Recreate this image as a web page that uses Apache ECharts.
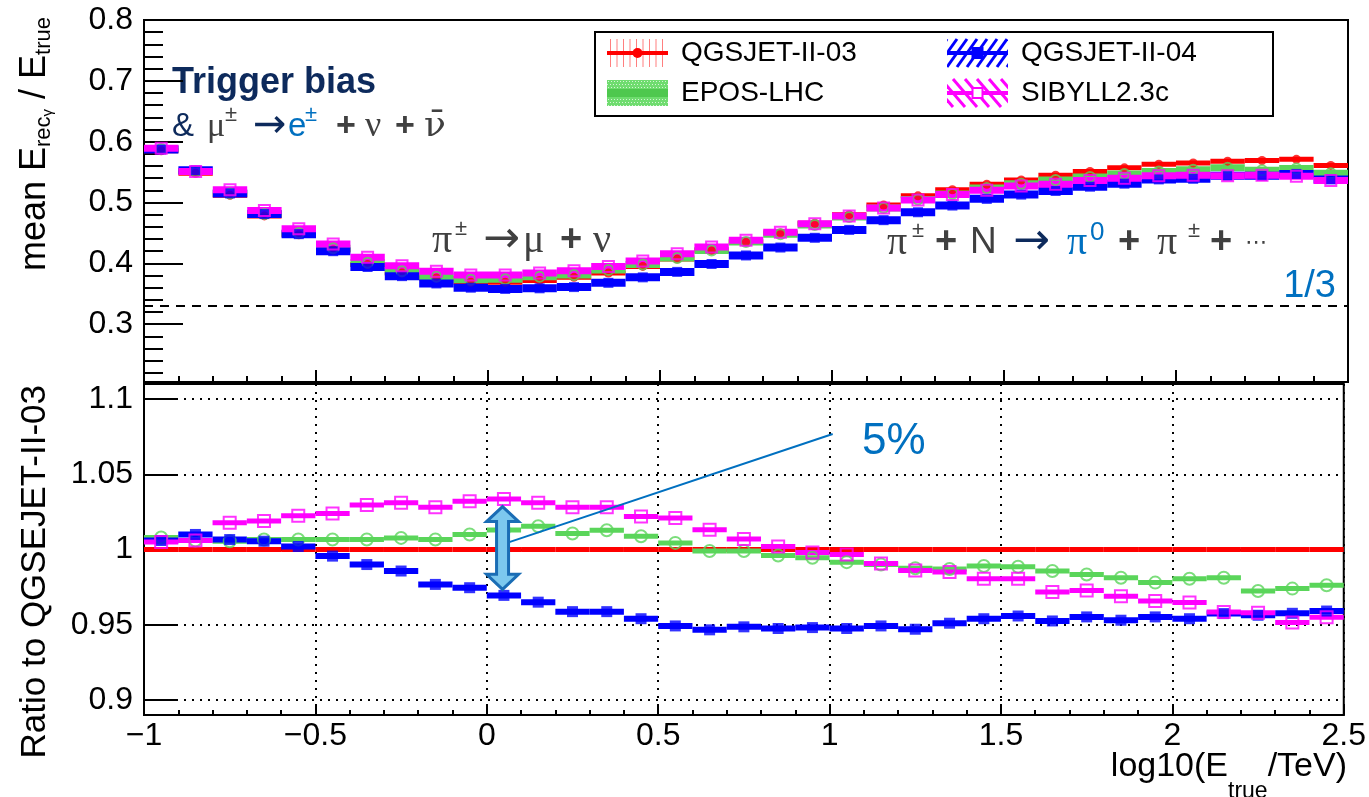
<!DOCTYPE html>
<html>
<head>
<meta charset="utf-8">
<script src="https://cdn.jsdelivr.net/npm/echarts@6/dist/echarts.min.js"></script>
<style>html,body{margin:0;padding:0;background:#fff}#c{width:1369px;height:797px}</style>
</head>
<body>
<div id="c"></div>
<script>
// ---------------- data ----------------
const binCenters = [-0.95,-0.85,-0.75,-0.65,-0.55,-0.45,-0.35,-0.25,-0.15,-0.05,
  0.05,0.15,0.25,0.35,0.45,0.55,0.65,0.75,0.85,0.95,
  1.05,1.15,1.25,1.35,1.45,1.55,1.65,1.75,1.85,1.95,
  2.05,2.15,2.25,2.35,2.45];
const binHalfWidth = 0.05;

const meanQGSJET03 = [0.585,0.548,0.512,0.478,0.447,0.422,0.398,0.384,0.376,0.369,
  0.369,0.372,0.377,0.384,0.395,0.407,0.421,0.435,0.450,0.466,
  0.480,0.496,0.511,0.521,0.530,0.537,0.545,0.551,0.557,0.563,
  0.565,0.568,0.569,0.571,0.561];
const meanEPOS = [0.588,0.551,0.515,0.481,0.450,0.425,0.401,0.387,0.378,0.373,
  0.374,0.378,0.381,0.389,0.398,0.409,0.421,0.435,0.448,0.463,
  0.476,0.491,0.505,0.514,0.524,0.531,0.537,0.542,0.547,0.551,
  0.554,0.557,0.553,0.556,0.548];
const meanQGSJET04 = [0.587,0.553,0.515,0.481,0.448,0.420,0.394,0.379,0.367,0.360,
  0.358,0.359,0.361,0.368,0.377,0.386,0.399,0.413,0.426,0.442,
  0.455,0.471,0.484,0.495,0.506,0.513,0.519,0.526,0.531,0.538,
  0.539,0.544,0.544,0.547,0.538];
const meanSIBYLL = [0.589,0.551,0.521,0.487,0.457,0.432,0.410,0.396,0.387,0.381,
  0.381,0.384,0.388,0.395,0.404,0.416,0.427,0.438,0.451,0.465,
  0.478,0.491,0.504,0.513,0.520,0.527,0.530,0.536,0.540,0.544,
  0.545,0.544,0.545,0.543,0.536];

const ratioQGSJET03 = [1,1,1,1,1,1,1,1,1,1,1,1,1,1,1,1,1,1,1,1,1,1,1,1,1,1,1,1,1,1,1,1,1,1,1];
const ratioEPOS = [1.008,1.006,1.0055,1.0066,1.0066,1.0066,1.0066,1.0077,1.0066,1.010,
  1.013,1.0155,1.0106,1.0128,1.0088,1.0044,0.999,0.999,0.996,0.9945,
  0.9916,0.990,0.9875,0.987,0.989,0.9885,0.9857,0.9834,0.9812,0.978,
  0.9806,0.9812,0.9724,0.974,0.9762];
const ratioQGSJET04 = [1.006,1.010,1.0066,1.0055,1.002,0.9956,0.990,0.9857,0.9768,0.9746,
  0.9695,0.965,0.9587,0.9587,0.954,0.9492,0.9466,0.9486,0.9475,0.9481,
  0.9475,0.9492,0.947,0.951,0.954,0.9558,0.9525,0.9552,0.953,0.9552,
  0.954,0.9574,0.9563,0.9576,0.9591];
const ratioSIBYLL = [1.005,1.006,1.0177,1.019,1.0225,1.024,1.0295,1.031,1.028,1.032,
  1.0335,1.031,1.028,1.028,1.022,1.021,1.0132,1.007,1.002,0.998,
  0.9967,0.9907,0.986,0.985,0.9806,0.9806,0.9717,0.9728,0.969,0.9658,
  0.9647,0.9585,0.958,0.9515,0.955];

const oneThird = 1 / 3;
const topYTicks = [0.3,0.4,0.5,0.6,0.7,0.8];
const topYMinorTicks = [0.22,0.24,0.26,0.28,0.32,0.34,0.36,0.38,0.42,0.44,0.46,0.48,
  0.52,0.54,0.56,0.58,0.62,0.64,0.66,0.68,0.72,0.74,0.76,0.78];
const ratioYTicks = [0.9,0.95,1,1.05,1.1];

// annotation anchors (data coordinates of the ratio panel)
const arrowX = 0.046, arrowTop = 1.0285, arrowBottom = 0.9735;
const leaderFrom = [0.035, 1.0026], leaderTo = [1.009, 1.0768];

// ---------------- styles ----------------
const C_RED = '#ff0000', C_GREEN = '#5ad55a', C_BLUE = '#0000ff', C_MAG = '#ff00ff';
const NAVY = '#0d2a5c', GRAY = '#404040', LBLUE = '#0070c0';
const SANS = '"Liberation Sans", Arial, Helvetica, sans-serif';
const SERIF = '"Liberation Serif", "DejaVu Serif", serif';
const DJ = '"DejaVu Sans", sans-serif';

function pairs(vals) { return binCenters.map((c, i) => [c, vals[i]]); }

function binBars(thick) {
  return function (params, api) {
    const x = api.value(0), y = api.value(1);
    const a = api.coord([x - binHalfWidth, y]);
    const b = api.coord([x + binHalfWidth, y]);
    const cs = params.coordSys;
    const shape = echarts.graphic.clipRectByRect(
      { x: a[0], y: a[1] - thick / 2, width: b[0] - a[0], height: thick },
      { x: cs.x, y: cs.y, width: cs.width, height: cs.height });
    return shape ? { type: 'rect', shape: shape, style: { fill: api.visual('color') } } : null;
  };
}

function barSeries(name, vals, color, thick, xi, yi, extra) {
  return Object.assign({
    type: 'custom', name: name, xAxisIndex: xi, yAxisIndex: yi,
    data: pairs(vals), itemStyle: { color: color }, renderItem: binBars(thick),
    silent: true, encode: { x: 0, y: 1 }
  }, extra || {});
}
function markerSeries(name, vals, color, symbol, size, filled, xi, yi) {
  return {
    type: 'scatter', name: name, xAxisIndex: xi, yAxisIndex: yi, data: pairs(vals),
    symbol: symbol, symbolSize: size, silent: true,
    itemStyle: filled ? { color: color } : { color: 'rgba(0,0,0,0)', borderColor: color, borderWidth: 2 }
  };
}

// ---------------- legend icons ----------------
function makeIcon(kind) {
  const W = 69, H = 30, w = 61;
  const cv = document.createElement('canvas'); cv.width = W; cv.height = H;
  const g = cv.getContext('2d');
  g.save(); g.beginPath(); g.rect(0, 0, w, H); g.clip();
  if (kind === 'red') {
    g.strokeStyle = 'rgba(255,0,0,0.5)'; g.lineWidth = 1;
    for (let x = 3; x < w; x += 6.5) { g.beginPath(); g.moveTo(x + 0.5, 1); g.lineTo(x + 0.5, H - 1); g.stroke(); }
    g.fillStyle = C_RED; g.fillRect(0, 13, w, 4);
    g.beginPath(); g.arc(w / 2, 15, 5, 0, Math.PI * 2); g.fill();
  } else if (kind === 'green') {
    g.fillStyle = '#6fdc6f'; g.fillRect(0, 2, w, H - 4);
    g.fillStyle = 'rgba(255,255,255,0.7)';
    for (let y = 3; y < H - 2; y += 3) for (let x = (y % 2); x < w; x += 3) g.fillRect(x, y, 1, 1);
    g.fillStyle = '#4ec84e'; g.fillRect(0, 11, w, 8);
  } else if (kind === 'blue') {
    g.strokeStyle = C_BLUE; g.lineWidth = 3;
    for (let x = -30; x < w + 30; x += 10) { g.beginPath(); g.moveTo(x, H - 1); g.lineTo(x + 20, 1); g.stroke(); }
    g.fillStyle = C_BLUE; g.fillRect(0, 13, w, 4); g.fillRect(w / 2 - 6, 9, 12, 12);
  } else {
    g.strokeStyle = C_MAG; g.lineWidth = 3;
    for (let x = -30; x < w + 30; x += 12) { g.beginPath(); g.moveTo(x, 1); g.lineTo(x + 24, H - 1); g.stroke(); }
    g.fillStyle = C_MAG; g.fillRect(0, 13, w, 4);
    g.fillStyle = '#fff'; g.fillRect(w / 2 - 5, 10, 10, 10);
    g.strokeStyle = C_MAG; g.lineWidth = 2; g.strokeRect(w / 2 - 5, 10, 10, 10);
  }
  g.restore();
  return 'image://' + cv.toDataURL();
}

// ---------------- chart ----------------
const chart = echarts.init(document.getElementById('c'), null, { renderer: 'canvas' });

const axisLineBlack = { show: true, onZero: false, lineStyle: { color: '#000', width: 2 } };
const tickFont = { fontSize: 32, color: '#000', fontFamily: SANS };
const dotted = { show: true, lineStyle: { color: '#000', width: 2, type: [2, 6] } };

const option = {
  animation: false,
  backgroundColor: '#fff',
  textStyle: { fontFamily: SANS },
  grid: [
    { left: 144, right: 21, top: 20, height: 362, show: true, borderColor: '#000', borderWidth: 2 },
    { left: 144, right: 21, top: 384, height: 331, show: true, borderColor: '#000', borderWidth: 2 }
  ],
  xAxis: [
    { type: 'value', gridIndex: 0, min: -1, max: 2.5, interval: 0.5,
      axisLine: axisLineBlack, axisLabel: { show: false },
      axisTick: { show: true, inside: true, length: 12, lineStyle: { color: '#000', width: 2 } },
      minorTick: { show: true, splitNumber: 5, length: 6, lineStyle: { color: '#000', width: 2 } },
      splitLine: { show: false } },
    { type: 'value', gridIndex: 1, min: -1, max: 2.5, interval: 0.5,
      axisLine: axisLineBlack,
      axisLabel: Object.assign({ margin: 5, formatter: v => String(v).replace('-', '\u2212') }, tickFont),
      axisTick: { show: true, inside: true, length: 10, lineStyle: { color: '#000', width: 2 } },
      minorTick: { show: true, splitNumber: 5, length: 5, lineStyle: { color: '#000', width: 2 } },
      splitLine: dotted }
  ],
  yAxis: [
    { type: 'value', gridIndex: 0, position: 'left', min: 0.205, max: 0.8,
      axisLine: axisLineBlack,
      axisLabel: Object.assign({ margin: 11, customValues: topYTicks }, tickFont),
      axisTick: { show: true, inside: true, length: 39, customValues: topYTicks, lineStyle: { color: '#000', width: 2 } },
      splitLine: { show: false } },
    { type: 'value', gridIndex: 0, position: 'left', offset: 0, min: 0.205, max: 0.8,
      axisLine: { show: false, onZero: false }, axisLabel: { show: false },
      axisTick: { show: true, inside: true, length: 19, customValues: topYMinorTicks, lineStyle: { color: '#000', width: 2 } },
      splitLine: { show: false } },
    { type: 'value', gridIndex: 1, position: 'left', min: 0.89, max: 1.11,
      axisLine: axisLineBlack,
      axisLabel: Object.assign({ margin: 11, customValues: ratioYTicks }, tickFont),
      axisTick: { show: true, inside: true, length: 33, customValues: ratioYTicks, lineStyle: { color: '#000', width: 2 } },
      splitLine: dotted }
  ],
  legend: [
    { left: 607, top: 38, orient: 'vertical', itemWidth: 69, itemHeight: 30, itemGap: 10, padding: 0,
      selectedMode: false, textStyle: { fontSize: 28, color: '#000', fontFamily: SANS },
      data: [{ name: 'QGSJET-II-03', icon: makeIcon('red') }, { name: 'EPOS-LHC', icon: makeIcon('green') }] },
    { left: 947, top: 38, orient: 'vertical', itemWidth: 69, itemHeight: 30, itemGap: 10, padding: 0,
      selectedMode: false, textStyle: { fontSize: 28, color: '#000', fontFamily: SANS },
      data: [{ name: 'QGSJET-II-04', icon: makeIcon('blue') }, { name: 'SIBYLL2.3c', icon: makeIcon('magenta') }] }
  ],
  series: [
    barSeries('QGSJET-II-03', meanQGSJET03, C_RED, 5, 0, 0, {
      markLine: { silent: true, symbol: ['none', 'none'], label: { show: false },
        lineStyle: { color: '#000', width: 2, type: [9, 7] }, data: [{ yAxis: oneThird }] } }),
    markerSeries('QGSJET-II-03', meanQGSJET03, C_RED, 'circle', 9, true, 0, 0),
    barSeries('EPOS-LHC', meanEPOS, C_GREEN, 7, 0, 0),
    markerSeries('EPOS-LHC', meanEPOS, C_GREEN, 'circle', 10, false, 0, 0),
    barSeries('QGSJET-II-04', meanQGSJET04, C_BLUE, 8, 0, 0),
    markerSeries('QGSJET-II-04', meanQGSJET04, C_BLUE, 'rect', 10, true, 0, 0),
    barSeries('SIBYLL2.3c', meanSIBYLL, C_MAG, 7, 0, 0),
    markerSeries('SIBYLL2.3c', meanSIBYLL, C_MAG, 'rect', 11, false, 0, 0),

    barSeries('QGSJET-II-03', ratioQGSJET03, C_RED, 5, 1, 2),
    barSeries('EPOS-LHC', ratioEPOS, C_GREEN, 5, 1, 2),
    markerSeries('EPOS-LHC', ratioEPOS, C_GREEN, 'circle', 12, false, 1, 2),
    barSeries('QGSJET-II-04', ratioQGSJET04, C_BLUE, 6, 1, 2),
    markerSeries('QGSJET-II-04', ratioQGSJET04, C_BLUE, 'rect', 11, true, 1, 2),
    barSeries('SIBYLL2.3c', ratioSIBYLL, C_MAG, 5, 1, 2),
    markerSeries('SIBYLL2.3c', ratioSIBYLL, C_MAG, 'rect', 12, false, 1, 2)
  ]
};
chart.setOption(option);

// ---------------- annotations ----------------
const px = p => chart.convertToPixel({ gridIndex: 1 }, p);
const aTop = px([arrowX, arrowTop]), aBot = px([arrowX, arrowBottom]);
const cx = aTop[0], ty = aTop[1], by = aBot[1];
const lf = px(leaderFrom), lt = px(leaderTo);

// rich token style helper: fixed-width box for each piece of the formulas
function tk(size, color, family, width, extra) {
  return Object.assign({ fontSize: size, lineHeight: 46, fill: color, fontFamily: family, width: width }, extra || {});
}
function sup(size, color, width) {
  return { fontSize: size, lineHeight: 22, verticalAlign: 'top', fill: color, fontFamily: SANS, width: width };
}

chart.setOption({
  graphic: [
    { type: 'rect', z: 1, shape: { x: 595, y: 32, width: 678, height: 84 },
      style: { fill: 'none', stroke: '#000', lineWidth: 2 } },
    // axis titles
    { type: 'text', x: 35, y: 17, rotation: Math.PI / 2,
      style: { text: '{m|mean E}{s|rec}{ss|\u03b3}{m| / E}{s|true}', align: 'right', verticalAlign: 'middle',
        rich: {
          m: { fontSize: 36, lineHeight: 40, fill: '#000', fontFamily: SANS },
          s: { fontSize: 22, lineHeight: 22, verticalAlign: 'bottom', fill: '#000', fontFamily: SANS },
          ss: { fontSize: 15, lineHeight: 15, verticalAlign: 'bottom', fill: '#000', fontFamily: SANS }
        } } },
    { type: 'text', x: 35, y: 385, rotation: Math.PI / 2,
      style: { text: 'Ratio to QGSEJET-II-03', align: 'right', verticalAlign: 'middle',
        font: '35px ' + SANS, fill: '#000' } },
    { type: 'text', x: 1347, y: 767,
      style: { text: '{m|log10(E}{s|true}{m|/TeV)}', align: 'right', verticalAlign: 'middle',
        rich: {
          m: { fontSize: 34, lineHeight: 72, fill: '#000', fontFamily: SANS },
          s: { fontSize: 23, lineHeight: 23, verticalAlign: 'bottom', fill: '#000', fontFamily: SANS }
        } } },
    // physics annotations
    { type: 'text', x: 172, y: 83,
      style: { text: 'Trigger bias', font: 'bold 36px ' + SANS, fill: NAVY, verticalAlign: 'middle' } },
    { type: 'text', x: 172, y: 127,
      style: { text: '{a|&}{g|\u03bc}{s|\u00b1}{r|\u2192}{b|e}{bs|\u00b1}{p|+}{g2|\u03bd}{p|+}{nb|\u03bd\u0304}',
        verticalAlign: 'middle',
        rich: {
          a: tk(33, NAVY, SANS, 35),
          g: tk(34, GRAY, SERIF, 18),
          s: sup(22, GRAY, 28),
          r: tk(40, NAVY, DJ, 35),
          b: tk(33, LBLUE, SANS, 17),
          bs: sup(22, LBLUE, 31),
          p: tk(34, GRAY, SANS, 29, { fontWeight: 'bold' }),
          g2: tk(36, GRAY, SERIF, 30),
          nb: tk(36, GRAY, '"DejaVu Serif", serif', 30)
        } } },
    { type: 'text', x: 432, y: 241,
      style: { text: '{g|\u03c0}{s|\u00b1}{r|\u2192}{g2|\u03bc}{p|+}{g2|\u03bd}', verticalAlign: 'middle',
        rich: {
          g: tk(40, GRAY, SERIF, 23),
          s: sup(22, GRAY, 28),
          r: tk(44, GRAY, DJ, 40),
          g2: tk(40, GRAY, SERIF, 37),
          p: tk(38, GRAY, SANS, 33, { fontWeight: 'bold' })
        } } },
    { type: 'text', x: 887, y: 243,
      style: { text: '{g|\u03c0}{s|\u00b1}{p|+}{n|N}{r|\u2192}{bg|\u03c0}{bs|0}{p2|+}{g3|\u03c0}{s2|\u00b1}{p|+}{d|\u22ef}',
        verticalAlign: 'middle',
        rich: {
          g: tk(40, GRAY, SERIF, 25),
          s: sup(22, GRAY, 23),
          p: tk(38, GRAY, SANS, 35, { fontWeight: 'bold' }),
          n: tk(37, GRAY, SANS, 43),
          r: tk(44, NAVY, DJ, 54),
          bg: tk(40, LBLUE, SERIF, 23),
          bs: sup(26, LBLUE, 28),
          p2: tk(38, GRAY, SANS, 39, { fontWeight: 'bold' }),
          g3: tk(40, GRAY, SERIF, 31),
          s2: sup(22, GRAY, 22),
          d: tk(22, GRAY, DJ, 30)
        } } },
    { type: 'text', x: 1336, y: 287,
      style: { text: '1/3', font: '38px ' + SANS, fill: LBLUE, align: 'right', verticalAlign: 'middle' } },
    { type: 'text', x: 862, y: 442,
      style: { text: '5%', font: '44px ' + SANS, fill: LBLUE, verticalAlign: 'middle' } },
    { type: 'line', z: 10, shape: { x1: lf[0], y1: lf[1], x2: lt[0], y2: lt[1] },
      style: { stroke: LBLUE, lineWidth: 2 } },
    { type: 'polygon', z: 11,
      shape: { points: [[cx, ty], [cx + 16, ty + 15], [cx + 6, ty + 15], [cx + 6, by - 15], [cx + 16, by - 15],
        [cx, by], [cx - 16, by - 15], [cx - 6, by - 15], [cx - 6, ty + 15], [cx - 16, ty + 15]] },
      style: { fill: '#7cc8ee', stroke: '#1a6db5', lineWidth: 3 } }
  ]
});
</script>
</body>
</html>
